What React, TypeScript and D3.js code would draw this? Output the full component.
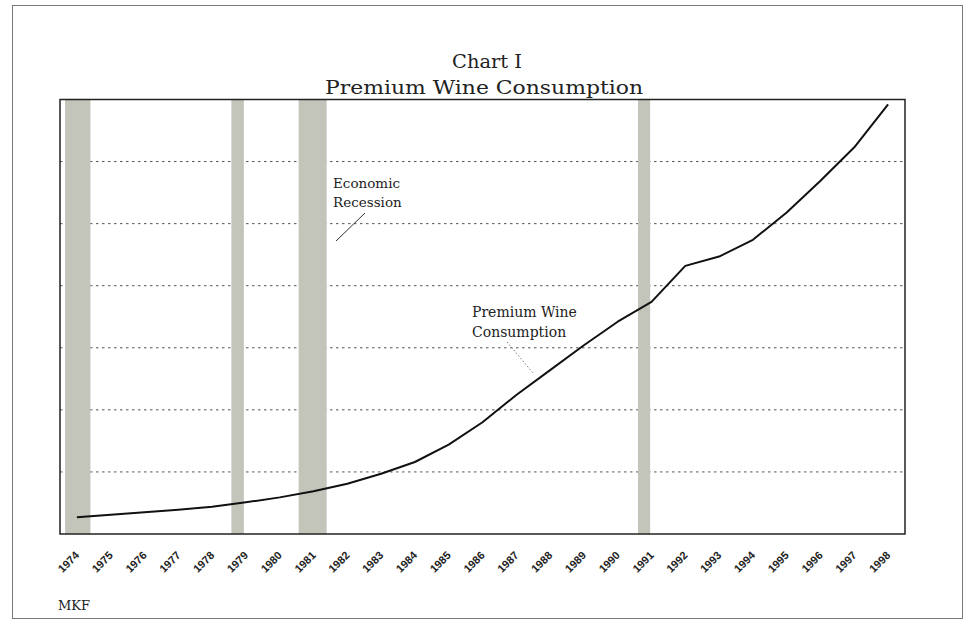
import React from "react";
import * as d3 from "d3";

const years = [1974,1975,1976,1977,1978,1979,1980,1981,1982,1983,1984,1985,1986,1987,1988,1989,1990,1991,1992,1993,1994,1995,1996,1997,1998];
const consumption = [2.7,3.1,3.5,3.9,4.4,5.1,5.9,6.9,8.1,9.7,11.6,14.4,18.0,22.4,26.4,30.4,34.2,37.4,43.2,44.7,47.4,51.8,56.9,62.3,69.2];
const recessions: [number, number][] = [[1974.15, 1974.9],[1979.07, 1979.44],[1981.06, 1981.89],[1991.1, 1991.46]];
const gridValues = [10,20,30,40,50,60];
const titleLines = ["Chart I", "Premium Wine Consumption"];
const recessionLabel = ["Economic", "Recession"];
const seriesLabel = ["Premium Wine", "Consumption"];
const sourceLabel = "MKF";

const W = 966, H = 621;
const L = 60, R = 905, T = 99.5, B = 534;

export default function App() {
  const x = d3.scaleLinear().domain([1974, 1999]).range([L, R]);
  const y = d3.scaleLinear().domain([0, 70]).range([B, T]);
  const line = d3.line<number>()
    .x((_, i) => x(years[i] + 0.5))
    .y((d) => y(d))
    .curve(d3.curveLinear);
  const serif = "'DejaVu Serif', serif";
  return (
    <svg width={W} height={H} style={{ position: "absolute", left: 0, top: 0, background: "#fff" }}>
      <rect x={12.5} y={5.5} width={950} height={613} fill="none" stroke="#7a7a7a" strokeWidth={1} />
      <text x={487} y={68} textAnchor="middle" fontFamily={serif} fontSize={18} fill="#222"
        textLength={70} lengthAdjust="spacingAndGlyphs">{titleLines[0]}</text>
      <text x={484} y={94} textAnchor="middle" fontFamily={serif} fontSize={18} fill="#222"
        textLength={318} lengthAdjust="spacingAndGlyphs">{titleLines[1]}</text>
      {gridValues.map((v) => (
        <line key={v} x1={L} x2={R} y1={y(v)} y2={y(v)} stroke="#555" strokeWidth={1} strokeDasharray="2.5,3.5" />
      ))}
      {recessions.map(([a, b], i) => (
        <rect key={i} x={x(a)} y={T} width={x(b) - x(a)} height={B - T} fill="#c3c5bb" />
      ))}
      <path d={line(consumption) || ""} fill="none" stroke="#111" strokeWidth={2} strokeLinejoin="round" />
      <rect x={L} y={T} width={R - L} height={B - T} fill="none" stroke="#222" strokeWidth={1.5} />
      {years.map((yr) => (
        <text key={yr} transform={`translate(${x(yr + 0.5) + 3},556) rotate(-45)`} textAnchor="end"
          fontFamily="'Liberation Sans', Arial, sans-serif" fontSize={11} fontWeight="bold" fill="#222">{yr}</text>
      ))}
      <text fontFamily={serif} fontSize={13.5} fill="#222">
        <tspan x={333} y={188}>{recessionLabel[0]}</tspan>
        <tspan x={333} y={207}>{recessionLabel[1]}</tspan>
      </text>
      <line x1={365} y1={213} x2={336} y2={241} stroke="#333" strokeWidth={1} />
      <text fontFamily={serif} fontSize={14} fill="#222">
        <tspan x={472} y={317}>{seriesLabel[0]}</tspan>
        <tspan x={472} y={337}>{seriesLabel[1]}</tspan>
      </text>
      <line x1={507} y1={342} x2={533} y2={373} stroke="#777" strokeWidth={1} strokeDasharray="1.5,2" />
      <text x={58} y={610} fontFamily={serif} fontSize={13} fill="#222">{sourceLabel}</text>
    </svg>
  );
}
